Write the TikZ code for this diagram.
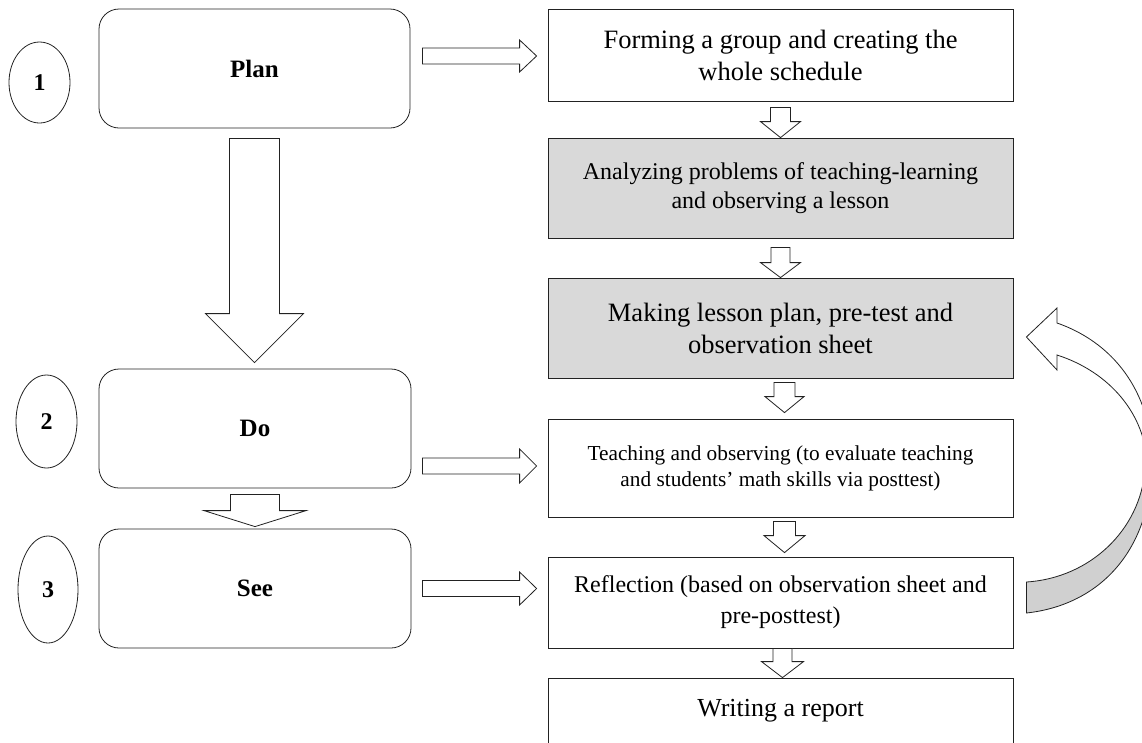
\documentclass[tikz,border=0pt]{standalone}
\usepackage{fontspec}
\setmainfont{Liberation Serif}
\usetikzlibrary{calc,shapes.geometric}
\definecolor{boxgray}{HTML}{D9D9D9}
\definecolor{bandgray}{HTML}{D0D0D0}
\definecolor{edge}{HTML}{222222}

% right-pointing block arrow: start, tip, shaft half width, head half width, head length
\newcommand\blkright[5]{\draw[blk] let \p1=#1, \p2=#2 in
  (\x1,\y1+#3) -- (\x2-#5,\y1+#3) -- (\x2-#5,\y1+#4) -- (\x2,\y1) --
  (\x2-#5,\y1-#4) -- (\x2-#5,\y1-#3) -- (\x1,\y1-#3) -- cycle;}
% downward block arrow: start, tip, shaft half width, head half width, head length
\newcommand\blkdown[5]{\draw[blk] let \p1=#1, \p2=#2 in
  (\x1-#3,\y1) -- (\x1-#3,\y2+#5) -- (\x1-#4,\y2+#5) -- (\x1,\y2) --
  (\x1+#4,\y2+#5) -- (\x1+#3,\y2+#5) -- (\x1+#3,\y1) -- cycle;}

\begin{document}
\begin{tikzpicture}[x=1pt,y=-1pt,
  blk/.style={draw=edge,line width=0.8pt,fill=white,line join=miter},
  stagebox/.style={draw=edge,line width=0.8pt,rounded corners=20pt,
    minimum width=312pt,minimum height=119pt,inner sep=0pt,
    font=\fontsize{25}{30}\selectfont\bfseries},
  numoval/.style={draw=edge,line width=0.8pt,ellipse,inner sep=0pt,
    font=\fontsize{24}{28}\selectfont\bfseries},
  stepbox/.style={draw=edge,line width=0.8pt,minimum width=465pt,inner sep=0pt,
    align=center},
  shaded/.style={fill=boxgray}]
\useasboundingbox (0,0) rectangle (1142,742);

% numbered ovals
\node[numoval,minimum width=61pt,minimum height=81pt] (n1) at (39.5,82.5) {1};
\node[numoval,minimum width=61pt,minimum height=93pt] (n2) at (46.5,421.5) {2};
\node[numoval,minimum width=60pt,minimum height=107pt] (n3) at (48,589.5) {3};

% stage boxes
\node[stagebox,minimum width=311pt] (plan) at (254.5,68.5) {Plan};
\node[stagebox] (do) at (255,428.5) {Do};
\node[stagebox] (see) at (255,588.5) {See};

% activity boxes
\node[stepbox,minimum height=92pt,font=\fontsize{26.5}{32}\selectfont] (form) at (780.5,55)
  {Forming a group and creating the\\whole schedule};
\node[stepbox,shaded,minimum height=100pt,font=\fontsize{24}{29.5}\selectfont] (anal) at (780.5,188)
  {Analyzing problems of teaching-learning\\and observing a lesson};
\node[stepbox,shaded,minimum height=100pt,font=\fontsize{26.5}{32}\selectfont] (making) at (780.5,328)
  {Making lesson plan, pre-test and\\observation sheet};
\node[stepbox,minimum height=98pt,font=\fontsize{21.3}{26}\selectfont] (teach) at (780.5,468)
  {Teaching and observing (to evaluate teaching\\and students’ math skills via posttest)};
\node[stepbox,minimum height=91pt,font=\fontsize{24}{31}\selectfont] (refl) at (780.5,602.5)
  {Reflection (based on observation sheet and\\pre-posttest)};
\node[stepbox,minimum height=66pt,font=\fontsize{26}{31}\selectfont] (write) at (780.5,711)
  {Writing a report};

% stage to activity arrows
\blkright{($(plan.east |- form.west)+(12,1)$)}{($(form.west)+(-11,0)$)}{8pt}{16pt}{17pt}
\blkright{($(do.east |- teach.west)+(11,-2)$)}{($(teach.west)+(-11,0)$)}{8pt}{17pt}{17pt}
\blkright{($(see.east)+(11,0)$)}{($(refl.west)+(-11,0)$)}{8pt}{16.5pt}{17pt}

% stage sequence
\blkdown{($(plan.south)+(0,10)$)}{($(do.north)+(0,-6)$)}{25pt}{49pt}{49pt}
\blkdown{($(do.south)+(0,6)$)}{($(see.north)+(0,-2)$)}{24.5pt}{51pt}{16pt}

% activity sequence
\blkdown{($(form.south)+(0,6)$)}{(anal.north)}{10pt}{20pt}{16pt}
\blkdown{($(anal.south)+(0,9)$)}{(making.north)}{9.5pt}{20pt}{15pt}
\blkdown{($(making.south)+(4,4)$)}{($(teach.north)+(0,-6)$)}{10.5pt}{19.5pt}{16pt}
\blkdown{($(teach.south)+(4,4)$)}{($(refl.north)+(0,-4)$)}{11pt}{20.5pt}{17pt}
\blkdown{($(refl.south)+(2,0)$)}{(write.north)}{9.5pt}{21pt}{16pt}

% curved return arrow from reflection back to planning the lesson
\coordinate (tailtop) at ($(refl.east)+(13,-20.5)$);
\coordinate (tailbot) at ($(refl.east)+(13,10.5)$);
\coordinate (tip) at ($(making.east)+(13,9)$);
\filldraw[fill=bandgray,draw=edge,line width=0.8pt]
  (tailtop) .. controls (1090,578) and (1140,530) .. (1145,470)
  -- (1152,460) .. controls (1152,550) and (1100,605) .. (tailbot) -- cycle;
\filldraw[fill=white,draw=edge,line width=0.8pt,line join=miter]
  (1057,323) -- (1057,308) -- (tip) -- (1057,370) -- (1057,355)
  .. controls (1110,372) and (1146,415) .. (1147,465)
  -- (1152,460) .. controls (1152,400) and (1120,345) .. (1057,323) -- cycle;
\end{tikzpicture}
\end{document}
